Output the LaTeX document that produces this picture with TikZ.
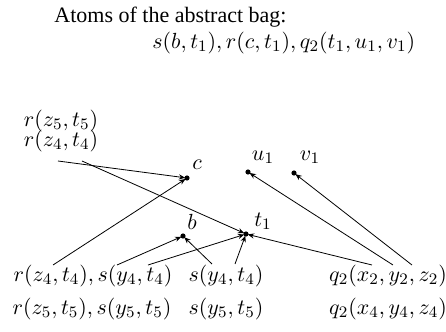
\documentclass[tikz,border=0pt]{standalone}
\usepackage[no-math]{fontspec}
\setmainfont{Liberation Serif}
\usetikzlibrary{arrows.meta}
\tikzset{
  dot/.style={circle,fill,inner sep=0pt,minimum size=2.6pt},
  lbl/.style={inner sep=1pt,font=\fontsize{11}{13}\selectfont},
  arr/.style={-{Stealth[length=3.2pt,width=2.6pt]},line width=0.4pt,shorten >=-0.6pt}
}
\begin{document}
\begin{tikzpicture}[x=0.5pt,y=-0.5pt]
\useasboundingbox (0,0) rectangle (446,332);
\node[lbl,anchor=west] (title) at (52,17) {Atoms of the abstract bag:};
\node[lbl,anchor=west] (atoms) at (150,43) {$s(b,t_1),r(c,t_1),q_2(t_1,u_1,v_1)$};
% targets
\node[dot] (c) at (187,178) {};
\node[dot] (b) at (183,236) {};
\node[dot] (t) at (246,234) {};
\node[dot] (u) at (248,172) {};
\node[dot] (v) at (294,173) {};
\node[lbl] (lc) at (197,165) {$c$};
\node[lbl] (lb) at (192,222) {$b$};
\node[lbl] (lt) at (263,221) {$t_1$};
\node[lbl] (lu) at (263,157) {$u_1$};
\node[lbl] (lv) at (310,157) {$v_1$};
% sources
\node[lbl] (tl5) at (61,121) {$r(z_5,t_5)$};
\node[lbl] (tl4) at (61,141) {$r(z_4,t_4)$};
\node[lbl] (L1) at (93,276) {$r(z_4,t_4),s(y_4,t_4)$};
\node[lbl] (L2) at (92,309) {$r(z_5,t_5),s(y_5,t_5)$};
\node[lbl] (M1) at (226,276) {$s(y_4,t_4)$};
\node[lbl] (M2) at (226,309) {$s(y_5,t_5)$};
\node[lbl] (R1) at (388,276) {$q_2(x_2,y_2,z_2)$};
\node[lbl] (R2) at (388,309) {$q_2(x_4,y_4,z_4)$};
% start points
\coordinate (a1) at (58,161);
\coordinate (a2) at (82,161);
\coordinate (a3) at (53,265);
\coordinate (a4) at (117,265);
\coordinate (a5) at (148,265);
\coordinate (a6) at (212,264);
\coordinate (a7) at (235,264);
\coordinate (a8) at (372,265);
\coordinate (a9) at (393,265);
\coordinate (a10) at (412,265);
\draw[arr] (a1) -- (c);
\draw[arr] (a2) -- (t);
\draw[arr] (a3) -- (c);
\draw[arr] (a4) -- (b);
\draw[arr] (a5) -- (t);
\draw[arr] (a6) -- (b);
\draw[arr] (a7) -- (t);
\draw[arr] (a8) -- (t);
\draw[arr] (a9) -- (u);
\draw[arr] (a10) -- (v);
\end{tikzpicture}
\end{document}
